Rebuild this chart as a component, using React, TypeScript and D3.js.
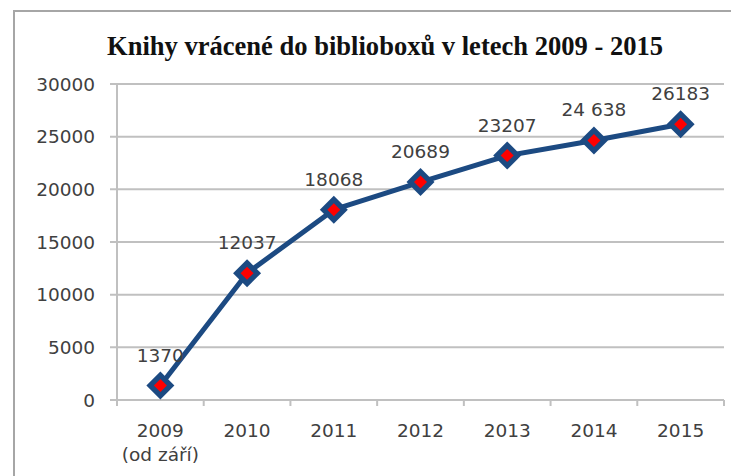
import * as d3 from "d3";

const years = ["2009", "2010", "2011", "2012", "2013", "2014", "2015"];
const subLabels = ["(od září)", "", "", "", "", "", ""];
const books = [1370, 12037, 18068, 20689, 23207, 24638, 26183];
const pointLabels = ["1370", "12037", "18068", "20689", "23207", "24 638", "26183"];
const yTicks = [0, 5000, 10000, 15000, 20000, 25000, 30000];
const title = "Knihy vrácené do biblioboxů v letech 2009 - 2015";

export default function App() {
  const w = 731;
  const h = 476;
  const left = 117;
  const right = 724;
  const top = 84;
  const bottom = 400;

  // scales
  const x = d3.scaleBand().domain(years).range([left, right]);
  const y = d3.scaleLinear().domain([0, 30000]).range([bottom, top]);
  const cx = (d: string) => (x(d) as number) + x.bandwidth() / 2;

  const line = d3
    .line<number>()
    .x((_, i) => cx(years[i]))
    .y((v) => y(v));

  const diamond = (r: number) => `M0,${-r}L${r},0L0,${r}L${-r},0Z`;
  const font = "'DejaVu Sans', sans-serif";
  const gridColor = "#c0c0c0";

  return (
    <svg
      width={w}
      height={h}
      style={{ position: "absolute", left: 0, top: 0, background: "#fff" }}
    >
      {/* frame */}
      <rect x={14} y={11} width={760} height={500} fill="#fff" stroke="#a6a6a6" strokeWidth={2} />

      <text
        x={385}
        y={55}
        textAnchor="middle"
        fontFamily="'Liberation Serif', 'Times New Roman', serif"
        fontWeight="bold"
        fontSize={28}
        textLength={556}
        lengthAdjust="spacingAndGlyphs"
        fill="#111"
      >
        {title}
      </text>

      {/* y grid + ticks */}
      {yTicks.map((t) => (
        <g key={t}>
          <line x1={left - 7} x2={right} y1={y(t)} y2={y(t)} stroke={gridColor} strokeWidth={2} />
          <text
            x={95}
            y={y(t)}
            dy="0.36em"
            textAnchor="end"
            fontFamily={font}
            fontSize={18.5}
            fill="#404040"
          >
            {t}
          </text>
        </g>
      ))}
      <line x1={left} x2={left} y1={top} y2={bottom} stroke={gridColor} strokeWidth={2} />

      {/* x ticks */}
      {years.map((yr, i) => (
        <line
          key={"t" + yr}
          x1={(x(yr) as number) + (i === years.length ? 0 : 0)}
          x2={x(yr) as number}
          y1={bottom}
          y2={bottom + 6}
          stroke={gridColor}
          strokeWidth={2}
        />
      ))}
      <line x1={right} x2={right} y1={bottom} y2={bottom + 6} stroke={gridColor} strokeWidth={2} />

      {years.map((yr, i) => (
        <g key={"l" + yr} fontFamily={font} fontSize={18.5} fill="#404040" textAnchor="middle">
          <text x={cx(yr)} y={437}>
            {yr}
          </text>
          {subLabels[i] && (
            <text x={cx(yr)} y={461}>
              {subLabels[i]}
            </text>
          )}
        </g>
      ))}

      {/* series */}
      <path d={line(books) || ""} fill="none" stroke="#1c4a82" strokeWidth={5} strokeLinejoin="round" />
      {books.map((v, i) => (
        <g key={"m" + i} transform={`translate(${cx(years[i])},${y(v)})`}>
          <path d={diamond(14)} fill="#1c4a82" />
          <path d={diamond(6.5)} fill="#ff0000" />
        </g>
      ))}

      {books.map((v, i) => (
        <text
          key={"d" + i}
          x={cx(years[i])}
          y={y(v) - 24}
          textAnchor="middle"
          fontFamily={font}
          fontSize={18.5}
          fill="#404040"
        >
          {pointLabels[i]}
        </text>
      ))}
    </svg>
  );
}
